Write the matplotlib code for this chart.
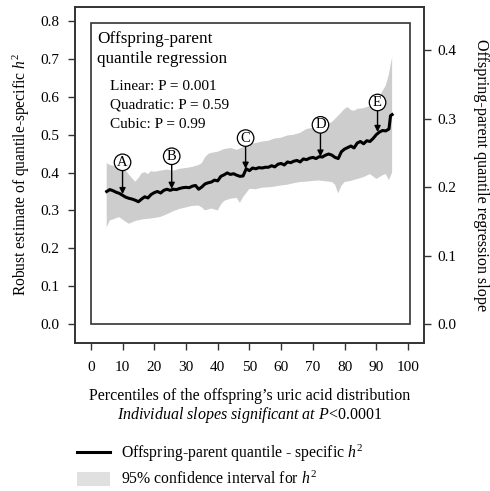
import numpy as np
import matplotlib
matplotlib.use("Agg")
import matplotlib.pyplot as plt
from matplotlib.lines import Line2D
from matplotlib.patches import Patch, Rectangle

plt.rcParams['font.family'] = ['Liberation Serif', 'DejaVu Serif']
plt.rcParams['mathtext.fontset'] = 'custom'
plt.rcParams['mathtext.rm'] = 'Liberation Serif'
plt.rcParams['mathtext.it'] = 'Liberation Serif:italic'

# quantile-specific h2
line_pct = [5, 6, 7, 8, 9, 10, 11, 12, 13, 14, 15, 16, 17, 18, 19, 20, 21, 22, 23, 24,
            25, 26, 27, 28, 29, 30, 31, 32, 33, 34, 35, 36, 37, 38, 39, 40, 41, 42, 43, 44,
            45, 46, 47, 48, 49, 50, 51, 52, 53, 54, 55, 56, 57, 58, 59, 60, 61, 62, 63, 64,
            65, 66, 67, 68, 69, 70, 71, 72, 73, 74, 75, 76, 77, 78, 79, 80, 81, 82, 83, 84,
            85, 86, 87, 88, 89, 90, 91, 92, 93, 94, 94.5, 95]
line_h2 = [0.350, 0.355, 0.352, 0.348, 0.345, 0.340, 0.335, 0.332, 0.330, 0.327, 0.323, 0.330,
           0.336, 0.333, 0.342, 0.347, 0.350, 0.346, 0.353, 0.356, 0.353, 0.356, 0.355, 0.358,
           0.360, 0.361, 0.360, 0.364, 0.366, 0.356, 0.362, 0.370, 0.373, 0.375, 0.380, 0.378,
           0.390, 0.394, 0.399, 0.395, 0.397, 0.393, 0.390, 0.391, 0.410, 0.405, 0.412, 0.410,
           0.413, 0.412, 0.414, 0.414, 0.418, 0.415, 0.422, 0.424, 0.420, 0.428, 0.426, 0.430,
           0.432, 0.428, 0.436, 0.434, 0.438, 0.440, 0.437, 0.442, 0.441, 0.446, 0.449, 0.446,
           0.440, 0.437, 0.455, 0.462, 0.466, 0.470, 0.465, 0.478, 0.482, 0.476, 0.484, 0.482,
           0.490, 0.500, 0.507, 0.511, 0.510, 0.515, 0.550, 0.553]

# 95% CI upper edge
upper_pct = [5, 6, 7, 8, 9, 10, 11, 12, 13, 14, 15, 16, 17, 18, 19, 20, 22, 24, 26, 28,
             30, 32, 34, 35, 36, 37, 38, 40, 42, 44, 46, 48, 50, 52, 54, 56, 58, 60, 62, 64,
             66, 68, 70, 72, 74, 76, 78, 80, 81, 82, 83, 84, 86, 87, 88, 90, 91, 92, 93, 94, 95]
upper_h2 = [0.425, 0.420, 0.418, 0.420, 0.416, 0.414, 0.405, 0.395, 0.385, 0.376, 0.385, 0.398,
            0.401, 0.396, 0.404, 0.402, 0.405, 0.408, 0.405, 0.410, 0.412, 0.415, 0.420, 0.425,
            0.440, 0.449, 0.452, 0.455, 0.462, 0.465, 0.460, 0.467, 0.475, 0.478, 0.482, 0.484,
            0.490, 0.492, 0.498, 0.500, 0.505, 0.515, 0.518, 0.522, 0.528, 0.533, 0.550, 0.568,
            0.573, 0.565, 0.563, 0.568, 0.570, 0.573, 0.575, 0.585, 0.600, 0.616, 0.630, 0.660,
            0.705]

# 95% CI lower edge
lower_pct = [5, 6, 7, 8, 9, 10, 11, 12, 13, 14, 15, 16, 18, 20, 22, 24, 26, 28, 30, 32,
             34, 35, 36, 38, 40, 41, 42, 44, 46, 47, 48, 50, 52, 54, 56, 58, 60, 62, 64, 66,
             68, 70, 72, 74, 76, 77, 78, 79, 80, 82, 84, 86, 88, 89, 90, 91, 92, 93, 94, 95]
lower_h2 = [0.255, 0.274, 0.276, 0.280, 0.282, 0.276, 0.270, 0.265, 0.268, 0.272, 0.274, 0.276,
            0.278, 0.280, 0.283, 0.290, 0.298, 0.304, 0.308, 0.312, 0.313, 0.308, 0.300, 0.305,
            0.300, 0.315, 0.325, 0.331, 0.333, 0.320, 0.335, 0.357, 0.356, 0.360, 0.361, 0.363,
            0.366, 0.368, 0.372, 0.375, 0.376, 0.378, 0.379, 0.377, 0.375, 0.368, 0.345, 0.365,
            0.375, 0.378, 0.383, 0.388, 0.396, 0.390, 0.383, 0.388, 0.393, 0.396, 0.380, 0.400]

# circled markers: letter, percentile, h2 at arrow tip, h2 of circle
mark_letters = ['A', 'B', 'C', 'D', 'E']
mark_pct = [10, 25.5, 48.8, 72.4, 90.4]
mark_tip = [0.343, 0.357, 0.410, 0.442, 0.507]
mark_circle = [0.427, 0.443, 0.491, 0.526, 0.585]

fig = plt.figure(figsize=(4.9, 4.91), dpi=100)
ax = fig.add_axes([0.153, 0.3014, 0.712, 0.6843])

# confidence band as one polygon
band_x = np.concatenate([upper_pct, lower_pct[::-1]])
band_y = np.concatenate([upper_h2, lower_h2[::-1]])
ax.fill(band_x, band_y, color='#cdcdcd', lw=0, zorder=1)
ax.plot(line_pct, line_h2, color='black', lw=2.2, zorder=3)

# inner box
ax.add_patch(Rectangle((0, 0), 100.6, 0.795, fill=False, lw=1.2, ec='#333333', zorder=2))

for lab, px, tip, cy in zip(mark_letters, mark_pct, mark_tip, mark_circle):
    ax.annotate('', xy=(px, tip), xytext=(px, cy - 0.02),
                arrowprops=dict(arrowstyle='-|>', color='black', lw=1.0,
                                mutation_scale=9, shrinkA=0, shrinkB=0), zorder=4)
    ax.text(px, cy, lab, ha='center', va='center', fontsize=10.5, zorder=5,
            bbox=dict(boxstyle='circle,pad=0.12', fc='white', ec='black', lw=0.9))

ax.text(2, 0.774, 'Offspring-parent\nquantile regression', ha='left', va='top',
        fontsize=12.3, linespacing=1.38)
ax.text(6, 0.645, 'Linear: P = 0.001\nQuadratic: P = 0.59\nCubic: P = 0.99',
        ha='left', va='top', fontsize=11, linespacing=1.62)

ax.set_xlim(-5, 105)
ax.set_ylim(-0.05, 0.837)
ax.set_xticks(np.arange(0, 101, 10))
ax.set_yticks(np.arange(0, 0.81, 0.1))
ax.set_yticklabels(['%.1f' % v for v in np.arange(0, 0.81, 0.1)])
ax.tick_params(direction='out', length=5, width=1, labelsize=11, color='#333333', pad=6)
ax.tick_params(axis='x', pad=8)
for s in ax.spines.values():
    s.set_linewidth(1.2)
    s.set_color('#333333')

ax.set_ylabel('Robust estimate of quantile-specific $h^2$', fontsize=11.2, labelpad=6)
ax.set_xlabel("Percentiles of the offspring\u2019s uric acid distribution\n"
              "$\\mathit{Individual\\ slopes\\ significant\\ at\\ P}$<0.0001",
              fontsize=11.5, labelpad=10, linespacing=1.1)

# right axis (regression slope)
ax2 = ax.twinx()
ax2.set_ylim(-0.0277, 0.4628)
ax2.set_yticks(np.arange(0, 0.41, 0.1))
ax2.set_yticklabels(['%.1f' % v for v in np.arange(0, 0.41, 0.1)])
ax2.tick_params(direction='out', length=5, width=1, labelsize=11, color='#333333', pad=5)
for s in ax2.spines.values():
    s.set_linewidth(1.2)
    s.set_color('#333333')
ax2.set_ylabel('Offspring-parent quantile regression slope', fontsize=11.6,
               rotation=270, labelpad=23)

# legend below the chart
handles = [Line2D([], [], color='black', lw=2.2),
           Patch(facecolor='#e0e0e0', edgecolor='none')]
labels = ['Offspring-parent quantile - specific $h^2$', '95% confidence interval for $h^2$']
fig.legend(handles, labels, loc='upper left', bbox_to_anchor=(0.157, 0.0985),
           frameon=False, fontsize=11.3, handlelength=2.1, handleheight=1.0,
           handletextpad=0.72, labelspacing=0.45, borderpad=0, borderaxespad=0)

fig.savefig('out.png', dpi=100)
